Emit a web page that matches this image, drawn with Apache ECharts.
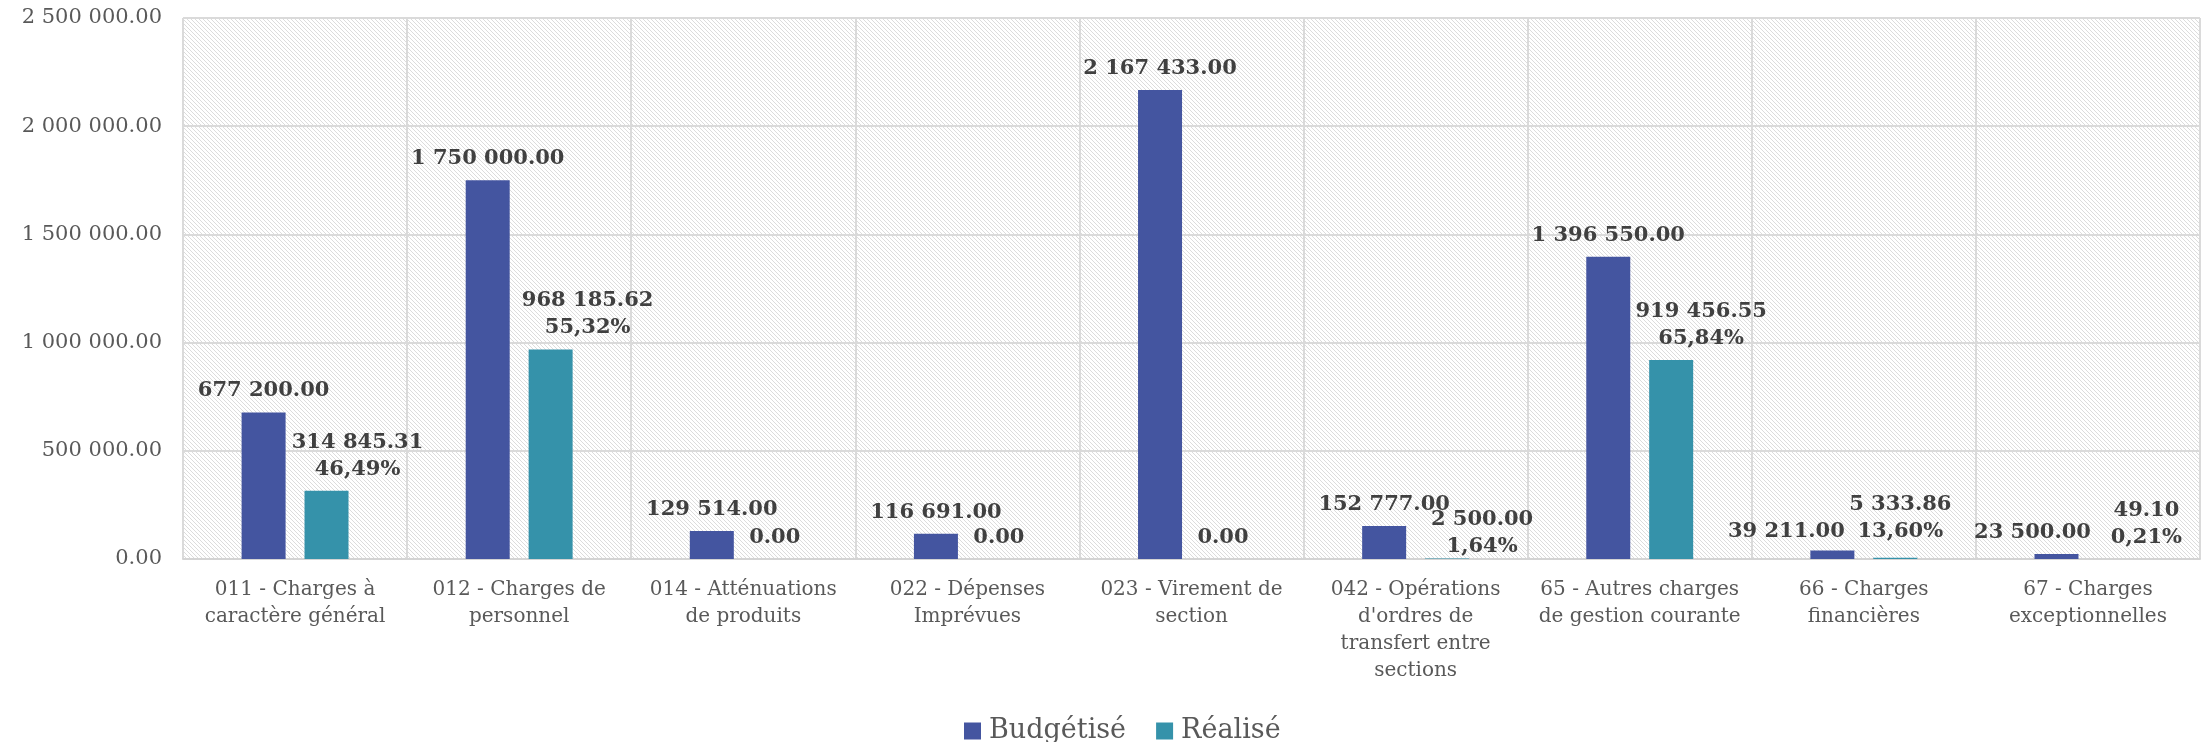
<!DOCTYPE html>
<html>
<head>
<meta charset="utf-8">
<script src="https://cdn.jsdelivr.net/npm/echarts@6/dist/echarts.min.js"></script>
<style>
html,body{margin:0;padding:0;background:#fff;}
#chart{width:2204px;height:742px;}
</style>
</head>
<body>
<div id="chart"></div>
<script>
// ---- data ----
const categories = [
  '011 - Charges à\ncaractère général',
  '012 - Charges de\npersonnel',
  '014 - Atténuations\nde produits',
  '022 - Dépenses\nImprévues',
  '023 - Virement de\nsection',
  "042 - Opérations\nd'ordres de\ntransfert entre\nsections",
  '65 - Autres charges\nde gestion courante',
  '66 - Charges\nfinancières',
  '67 - Charges\nexceptionnelles'
];
const budgetise = [677200, 1750000, 129514, 116691, 2167433, 152777, 1396550, 39211, 23500];
const realise = [314845.31, 968185.62, 0, 0, 0, 2500, 919456.55, 5333.86, 49.10];
const realisePct = ['46,49%', '55,32%', '', '', '', '1,64%', '65,84%', '13,60%', '0,21%'];
const seriesNames = ['Budgétisé', 'Réalisé'];
const yTicks = [0, 500000, 1000000, 1500000, 2000000, 2500000];

// ---- style: label nudges (Excel manual label placement) ----
const budgetNudge = [[0,0],[0,0],[0,0],[0,0],[0,0],[0,0],[0,0],[-46,3],[-24,0]];
const realNudge = [[31,0],[37,0],[0,0],[0,0],[0,0],[35,10],[30,0],[5,-5],[27,0]];

function fmt(v) {
  const s = Math.abs(v).toFixed(2);
  const [i, d] = s.split('.');
  const g = i.replace(/\B(?=(\d{3})+(?!\d))/g, ' ');
  return (v < 0 ? '-' : '') + g + '.' + d;
}

// pixel-exact hatch pattern (light downward diagonal) for plot background
const pc = document.createElement('canvas');
pc.width = 8; pc.height = 8;
const pctx = pc.getContext('2d');
pctx.fillStyle = '#ffffff';
pctx.fillRect(0, 0, 8, 8);
pctx.fillStyle = '#dcdcdc';
for (let y = 0; y < 8; y++) {
  for (let k = 0; k < 2; k++) {
    pctx.fillRect((y + k * 4) % 8, y, 1, 1);
  }
}

const FONT = '"DejaVu Serif", "Liberation Serif", serif';
const labelStyle = {
  show: true,
  position: 'top',
  distance: 8,
  fontFamily: FONT,
  fontSize: 21,
  fontWeight: 'bold',
  color: '#404040',
  lineHeight: 27
};

const chart = echarts.init(document.getElementById('chart'), null, {renderer: 'canvas'});
chart.setOption({
  animation: false,
  backgroundColor: '#ffffff',
  grid: {
    left: 183, right: 4, top: 18, bottom: 183,
    show: true,
    borderWidth: 0,
    backgroundColor: {image: pc, repeat: 'repeat'}
  },
  legend: {
    data: seriesNames,
    left: 959,
    top: 711,
    itemWidth: 17,
    itemHeight: 17,
    itemGap: 30,
    icon: 'rect',
    textStyle: {fontFamily: FONT, fontSize: 27, color: '#595959', lineHeight: 30, padding: [0, 0, 0, 3]}
  },
  xAxis: {
    type: 'category',
    data: categories,
    axisTick: {show: false},
    axisLine: {show: true, lineStyle: {color: '#d4d4d4', width: 2}},
    splitLine: {show: true, interval: 0, lineStyle: {color: '#dadada', width: 2}},
    axisLabel: {
      interval: 0,
      margin: 17,
      fontFamily: FONT,
      fontSize: 20,
      lineHeight: 27,
      color: '#595959'
    }
  },
  yAxis: {
    type: 'value',
    min: yTicks[0],
    max: yTicks[yTicks.length - 1],
    interval: yTicks[1] - yTicks[0],
    axisLine: {show: false},
    axisTick: {show: false},
    splitLine: {show: true, lineStyle: {color: '#dadada', width: 2}},
    axisLabel: {
      margin: 21,
      fontFamily: FONT,
      fontSize: 21,
      color: '#595959',
      formatter: v => fmt(v)
    }
  },
  series: [
    {
      name: seriesNames[0],
      type: 'bar',
      barWidth: 44,
      barGap: '43%',
      itemStyle: {color: '#4455a0'},
      data: budgetise.map((v, i) => ({
        value: v,
        label: Object.assign({}, labelStyle, {offset: budgetNudge[i], formatter: () => fmt(v)})
      }))
    },
    {
      name: seriesNames[1],
      type: 'bar',
      barWidth: 44,
      barGap: '43%',
      itemStyle: {color: '#3592aa'},
      data: realise.map((v, i) => ({
        value: v,
        label: Object.assign({}, labelStyle, {
          offset: realNudge[i],
          formatter: () => fmt(v) + (realisePct[i] ? '\n' + realisePct[i] : '')
        })
      }))
    }
  ]
});
</script>
</body>
</html>
